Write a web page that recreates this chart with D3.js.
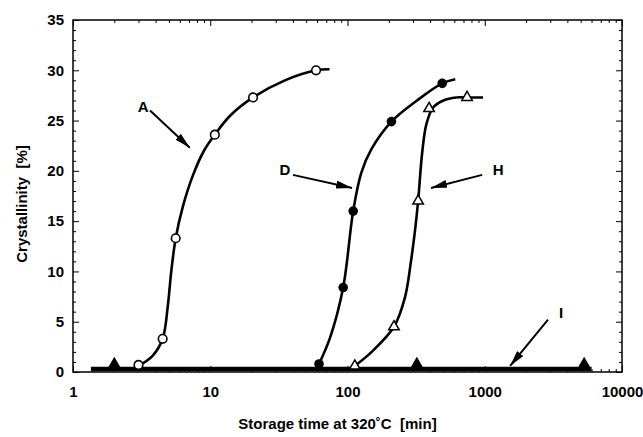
<!DOCTYPE html>
<html>
<head>
<meta charset="utf-8">
<script src="https://cdn.jsdelivr.net/npm/d3@7"></script>
<style>
  body { margin: 0; background: #fff; }
  svg { font-family: "Liberation Sans", Arial, sans-serif; font-weight: bold; }
  .axis path, .axis line { stroke: #000; }
  .axis text { font-size: 15px; font-weight: bold; fill: #000; }
  .title { white-space: pre; }
</style>
</head>
<body>
<div id="chart"></div>
<script>
// measured points (storage time [min], crystallinity [%])
var seriesA = [[3, 0.7], [4.5, 3.3], [5.6, 13.3], [10.8, 23.6], [20.5, 27.3], [59, 30]];
var seriesD = [[62, 0.8], [93, 8.4], [110, 16], [209, 24.9], [490, 28.7]];
var seriesH = [[113, 0.6], [218, 4.5], [327, 17], [393, 26.2], [743, 27.3]];
var seriesI = [[2, 0.5], [320, 0.5], [5300, 0.5]];

// fitted curves
var curveA = [[3, 0.6], [3.8, 1.6], [4.5, 3.3], [4.9, 6.5], [5.2, 10], [5.6, 13.3], [6.3, 16.4], [7.5, 19.6], [9, 22], [10.8, 23.6], [14, 25.5], [20.5, 27.3], [35, 29], [59, 30], [74, 30.1]];
var curveD = [[62, 0.8], [75, 3.5], [93, 8.4], [110, 16], [126, 19.8], [150, 22.2], [209, 24.9], [321, 27], [490, 28.7], [610, 29.1]];
var curveH = [[113, 0.6], [150, 2], [218, 4.5], [262, 7.4], [290, 11], [310, 14], [327, 17], [350, 21.8], [375, 24.6], [420, 26.3], [500, 27], [620, 27.3], [743, 27.3], [971, 27.3]];
var curveI = [[1.35, 0.3], [6000, 0.3]];

var xTicks = [1, 10, 100, 1000, 10000];
var yTicks = [0, 5, 10, 15, 20, 25, 30, 35];

// annotation labels: text, label pos, arrow start, arrow tip
var notes = [
  {t: "A", at: [3.24, 26.4], from: [3.64, 26.0], to: [7.1, 22.3]},
  {t: "D", at: [35, 20.1], from: [40, 19.6], to: [108, 18.3]},
  {t: "H", at: [1250, 20.1], from: [958, 19.6], to: [406, 18.3]},
  {t: "I", at: [3600, 5.9], from: [2890, 5.2], to: [1530, 0.6]}
];

var W = 643, H = 437;
var margin = {top: 20, right: 21, bottom: 65, left: 73};
var w = W - margin.left - margin.right,
    h = H - margin.top - margin.bottom;

var svg = d3.select("#chart").append("svg")
    .attr("width", W)
    .attr("height", H);

svg.append("defs").append("marker")
    .attr("id", "head")
    .attr("viewBox", "0 0 16 8")
    .attr("refX", 16).attr("refY", 4)
    .attr("markerWidth", 16).attr("markerHeight", 8)
    .attr("markerUnits", "userSpaceOnUse")
    .attr("orient", "auto")
  .append("path")
    .attr("d", "M0,0 L16,4 L0,8 Z")
    .attr("fill", "#000");

var g = svg.append("g").attr("transform", "translate(" + margin.left + "," + margin.top + ")");

var x = d3.scaleLog().domain([1, 10000]).range([0, w]);
var y = d3.scaleLinear().domain([0, 35]).range([h, 0]);

// minor ticks for the log axis
var xMinor = [];
for (var dec = 1; dec < 10000; dec *= 10)
  for (var k = 2; k < 10; k++) xMinor.push(dec * k);
var yMinor = d3.range(0, 36, 1).filter(function(v) { return v % 5 != 0; });

function noDomain(s) { s.select(".domain").remove(); }

// frame
g.append("rect").attr("width", w).attr("height", h)
  .attr("fill", "none").attr("stroke", "#000").attr("stroke-width", 1.5);

// bottom axis with labels
g.append("g").attr("class", "axis")
  .attr("transform", "translate(0," + h + ")")
  .call(d3.axisBottom(x).tickValues(xTicks).tickFormat(d3.format("d")).tickSizeInner(-6).tickSizeOuter(0).tickPadding(14))
  .call(noDomain);
g.append("g").attr("class", "axis")
  .attr("transform", "translate(0," + h + ")")
  .call(d3.axisBottom(x).tickValues(xMinor).tickFormat("").tickSizeInner(-3).tickSizeOuter(0))
  .call(noDomain);
// top axis
g.append("g").attr("class", "axis")
  .call(d3.axisTop(x).tickValues(xTicks).tickFormat("").tickSizeInner(-6).tickSizeOuter(0))
  .call(noDomain);
g.append("g").attr("class", "axis")
  .call(d3.axisTop(x).tickValues(xMinor).tickFormat("").tickSizeInner(-3).tickSizeOuter(0))
  .call(noDomain);

// left axis with labels
g.append("g").attr("class", "axis")
  .call(d3.axisLeft(y).tickValues(yTicks).tickSizeInner(-6).tickSizeOuter(0).tickPadding(9))
  .call(noDomain);
g.append("g").attr("class", "axis")
  .call(d3.axisLeft(y).tickValues(yMinor).tickFormat("").tickSizeInner(-3).tickSizeOuter(0))
  .call(noDomain);
// right axis
g.append("g").attr("class", "axis")
  .attr("transform", "translate(" + w + ",0)")
  .call(d3.axisRight(y).tickValues(yTicks).tickFormat("").tickSizeInner(-6).tickSizeOuter(0))
  .call(noDomain);
g.append("g").attr("class", "axis")
  .attr("transform", "translate(" + w + ",0)")
  .call(d3.axisRight(y).tickValues(yMinor).tickFormat("").tickSizeInner(-3).tickSizeOuter(0))
  .call(noDomain);

var line = d3.line()
    .x(function(d) { return x(d[0]); })
    .y(function(d) { return y(d[1]); })
    .curve(d3.curveCatmullRom.alpha(0.5));

[curveA, curveD, curveH].forEach(function(c) {
  g.append("path").datum(c)
    .attr("d", line)
    .attr("fill", "none")
    .attr("stroke", "#000")
    .attr("stroke-width", 2.6);
});
g.append("path").datum(curveI)
  .attr("d", line)
  .attr("fill", "none")
  .attr("stroke", "#000")
  .attr("stroke-width", 4.5);

// markers
g.selectAll(".ptA").data(seriesA).enter().append("circle")
  .attr("cx", function(d) { return x(d[0]); })
  .attr("cy", function(d) { return y(d[1]); })
  .attr("r", 4.3)
  .attr("fill", "#fff").attr("stroke", "#000").attr("stroke-width", 1.6);

g.selectAll(".ptD").data(seriesD).enter().append("circle")
  .attr("cx", function(d) { return x(d[0]); })
  .attr("cy", function(d) { return y(d[1]); })
  .attr("r", 4.8)
  .attr("fill", "#000");

var tri = d3.symbol().type(d3.symbolTriangle).size(48);
g.selectAll(".ptH").data(seriesH).enter().append("path")
  .attr("d", tri)
  .attr("transform", function(d) { return "translate(" + x(d[0]) + "," + y(d[1]) + ")"; })
  .attr("fill", "#fff").attr("stroke", "#000").attr("stroke-width", 1.5);

g.selectAll(".ptI").data(seriesI).enter().append("path")
  .attr("d", d3.symbol().type(d3.symbolTriangle).size(70))
  .attr("transform", function(d) { return "translate(" + x(d[0]) + "," + (y(d[1]) - 3) + ")"; })
  .attr("fill", "#000");

// annotations
notes.forEach(function(n) {
  g.append("line")
    .attr("x1", x(n.from[0])).attr("y1", y(n.from[1]))
    .attr("x2", x(n.to[0])).attr("y2", y(n.to[1]))
    .attr("stroke", "#000").attr("stroke-width", 2)
    .attr("marker-end", "url(#head)");
  g.append("text")
    .attr("x", x(n.at[0])).attr("y", y(n.at[1]))
    .attr("text-anchor", "middle")
    .attr("dy", "0.35em")
    .style("font-size", "15px")
    .text(n.t);
});

// axis titles
svg.append("text")
  .attr("class", "title")
  .attr("x", margin.left + w / 2 - 10).attr("y", 429)
  .attr("text-anchor", "middle")
  .style("font-size", "15px")
  .text("Storage time at 320˚C  [min]");

svg.append("text")
  .attr("class", "title")
  .attr("transform", "translate(27," + (margin.top + h / 2 + 8) + ") rotate(-90)")
  .attr("text-anchor", "middle")
  .style("font-size", "15px")
  .text("Crystallinity  [%]");
</script>
</body>
</html>
